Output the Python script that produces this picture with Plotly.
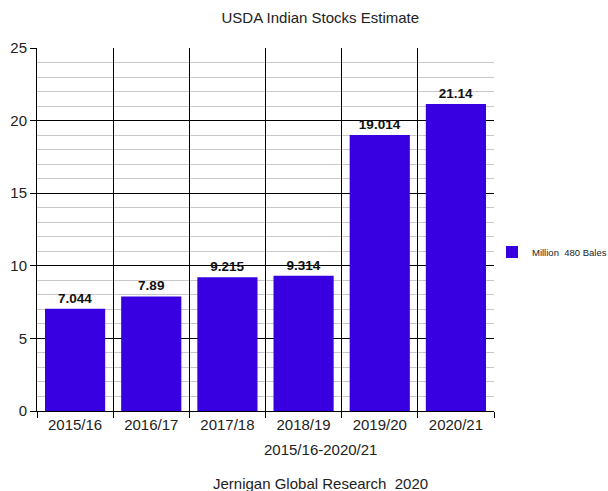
import plotly.graph_objects as go

seasons = ["2015/16", "2016/17", "2017/18", "2018/19", "2019/20", "2020/21"]
stocks = [7.044, 7.89, 9.215, 9.314, 19.014, 21.14]
value_labels = ["7.044", "7.89", "9.215", "9.314", "19.014", "21.14"]

bar_color = "#3800e0"
font_family = "Liberation Sans, Arial, sans-serif"
text_color = "#222222"

fig = go.Figure()
fig.add_trace(go.Bar(
    x=seasons,
    y=stocks,
    name="Million  480 Bales",
    marker=dict(color=bar_color, line=dict(width=0)),
    text=value_labels,
    textposition="outside",
    textfont=dict(size=13.5, color="#111111", family=font_family),
    texttemplate="<b>%{text}</b>",
    cliponaxis=False,
))

fig.update_layout(
    width=608,
    height=491,
    margin=dict(l=37, r=114, t=48, b=80, autoexpand=False),
    paper_bgcolor="white",
    plot_bgcolor="white",
    font=dict(family=font_family, color=text_color),
    title=dict(text="USDA Indian Stocks Estimate", x=0.62, xanchor="center",
               xref="paper", y=0.963, yanchor="middle",
               font=dict(size=15, color=text_color)),
    bargap=0.21,
    showlegend=True,
    legend=dict(x=0.9956, y=0.438, xanchor="left", yanchor="middle",
                bgcolor="rgba(0,0,0,0)",
                font=dict(size=9.5, color=text_color), itemwidth=30),
    xaxis=dict(
        type="category",
        tickson="boundaries",
        ticks="outside",
        ticklen=6,
        tickcolor="#000000",
        showgrid=True,
        gridcolor="#000000",
        gridwidth=1,
        showline=True,
        linecolor="#000000",
        tickfont=dict(size=15, color=text_color),
    ),
    yaxis=dict(
        range=[0, 25],
        dtick=5,
        ticks="outside",
        ticklen=6,
        tickcolor="#000000",
        showgrid=True,
        gridcolor="#000000",
        gridwidth=1,
        showline=True,
        linecolor="#000000",
        zeroline=False,
        tickfont=dict(size=15, color=text_color),
        minor=dict(dtick=1, showgrid=True, gridcolor="#c8c8c8", gridwidth=1),
    ),
    annotations=[
        dict(text="2015/16-2020/21", xref="paper", yref="paper",
             x=0.62, y=-0.107, xanchor="center", yanchor="middle",
             showarrow=False, font=dict(size=15, color=text_color)),
        dict(text="Jernigan Global Research  2020", xref="paper", yref="paper",
             x=0.62, y=-0.2, xanchor="center", yanchor="middle",
             showarrow=False, font=dict(size=15, color=text_color)),
    ],
)

fig.write_html("out.html")
